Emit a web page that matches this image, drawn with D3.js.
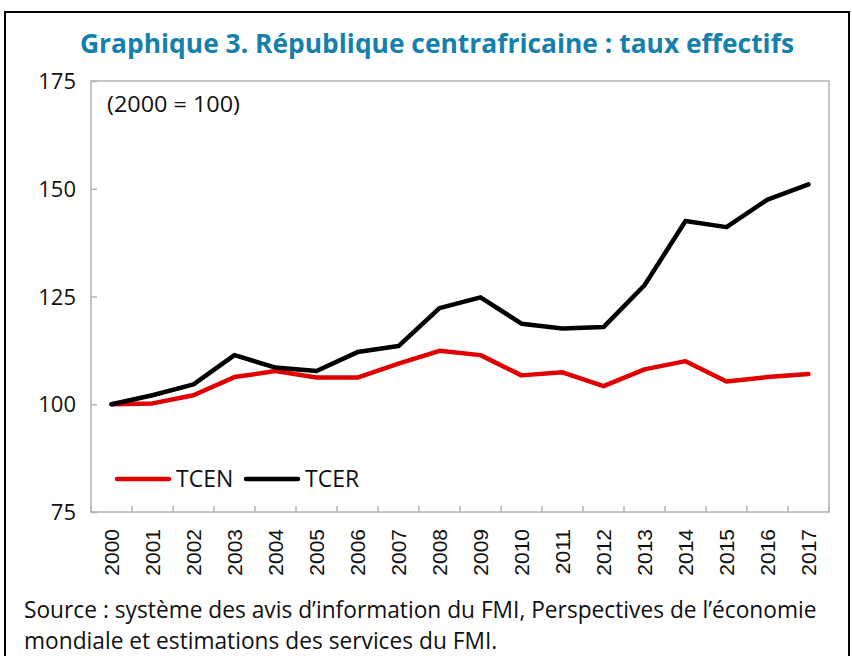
<!DOCTYPE html>
<html>
<head>
<meta charset="utf-8">
<script src="https://cdn.jsdelivr.net/npm/d3@7"></script>
<style>
  body { margin: 0; background: #fff; }
  svg text { font-family: "Open Sans", sans-serif; fill: #111; }
</style>
</head>
<body>
<div class="chart"></div>
<script>
// Data (2000 = 100)
const years = ['2000', '2001', '2002', '2003', '2004', '2005', '2006', '2007', '2008',
  '2009', '2010', '2011', '2012', '2013', '2014', '2015', '2016', '2017'];
const tcen = [100, 100.2, 102.1, 106.3, 107.7, 106.2, 106.2, 109.4, 112.4,
  111.4, 106.7, 107.4, 104.2, 108.1, 110, 105.3, 106.3, 107];
const tcer = [100, 102.1, 104.6, 111.4, 108.5, 107.7, 112.1, 113.5, 122.3,
  124.8, 118.7, 117.6, 117.9, 127.6, 142.5, 141.1, 147.5, 151];
const yTicks = [75, 100, 125, 150, 175];

const W = 852, H = 656;
const plot = {left: 91, right: 829, top: 81, bottom: 512};

const svg = d3.select('.chart').append('svg')
    .attr('width', W)
    .attr('height', H);

// outer frame
svg.append('rect')
    .attr('x', 5).attr('y', 12)
    .attr('width', 844).attr('height', 660)
    .attr('fill', 'none')
    .attr('stroke', '#000')
    .attr('stroke-width', 2);

// title, squeezed to the reference width
svg.append('text')
    .attr('x', 437).attr('y', 53)
    .attr('text-anchor', 'middle')
    .attr('textLength', 714)
    .attr('lengthAdjust', 'spacingAndGlyphs')
    .style('font-size', '27px')
    .style('font-weight', 700)
    .style('fill', '#1580ac')
    .text('Graphique 3. République centrafricaine : taux effectifs');

const xScale = d3.scaleBand()
    .domain(years)
    .range([plot.left, plot.right]);

const yScale = d3.scaleLinear()
    .domain([75, 175])
    .range([plot.bottom, plot.top]);

// plot box
svg.append('rect')
    .attr('x', plot.left).attr('y', plot.top)
    .attr('width', plot.right - plot.left)
    .attr('height', plot.bottom - plot.top)
    .attr('fill', 'none')
    .attr('stroke', '#b3b3b3')
    .attr('stroke-width', 1.5);

// y axis: ticks point inward, labels on the left
const yAxis = svg.append('g')
    .attr('transform', `translate(${plot.left},0)`)
    .call(d3.axisRight(yScale).tickValues(yTicks).tickSize(6).tickFormat(''));
yAxis.select('.domain').remove();
yAxis.selectAll('line').attr('stroke', '#b3b3b3').attr('stroke-width', 1.5);

svg.append('g').selectAll('text')
  .data(yTicks)
  .join('text')
    .attr('x', 76)
    .attr('y', d => yScale(d) + 8)
    .attr('text-anchor', 'end')
    .style('font-size', '22px')
    .text(d => d);

// x axis: ticks between categories, pointing up
const xBounds = years.map(d => xScale(d)).concat([plot.right]);
svg.append('g').selectAll('line')
  .data(xBounds)
  .join('line')
    .attr('x1', d => d).attr('x2', d => d)
    .attr('y1', plot.bottom).attr('y2', plot.bottom - 6)
    .attr('stroke', '#b3b3b3')
    .attr('stroke-width', 1.5);

svg.append('g').selectAll('text')
  .data(years)
  .join('text')
    .attr('transform', d => `translate(${xScale(d) + xScale.bandwidth() / 2 + 7},529) rotate(-90)`)
    .attr('text-anchor', 'end')
    .style('font-family', '"Liberation Sans", Arial, sans-serif')
    .style('font-size', '21px')
    .text(d => d);

svg.append('text')
    .attr('x', 107).attr('y', 112)
    .attr('textLength', 133)
    .attr('lengthAdjust', 'spacingAndGlyphs')
    .style('font-size', '22px')
    .text('(2000 = 100)');

// lines
const line = d3.line()
    .x((d, i) => xScale(years[i]) + xScale.bandwidth() / 2)
    .y(d => yScale(d));

const series = [
  {name: 'TCEN', values: tcen, color: '#e00000'},
  {name: 'TCER', values: tcer, color: '#000'},
];

svg.append('g').selectAll('path')
  .data(series)
  .join('path')
    .attr('d', d => line(d.values))
    .attr('fill', 'none')
    .attr('stroke', d => d.color)
    .attr('stroke-width', 4.5)
    .attr('stroke-linejoin', 'round')
    .attr('stroke-linecap', 'round');

// legend
const legend = svg.append('g').selectAll('g')
  .data(series)
  .join('g')
    .attr('transform', (d, i) => `translate(${117 + i * 129},479)`);
legend.append('line')
    .attr('x1', 0).attr('x2', 52)
    .attr('stroke', d => d.color)
    .attr('stroke-width', 4.5)
    .attr('stroke-linecap', 'round');
legend.append('text')
    .attr('x', 59).attr('y', 8)
    .style('font-size', '23px')
    .text(d => d.name);

// source note
const src = svg.append('g').style('font-size', '20px');
const l1 = src.append('text')
    .attr('x', 24).attr('y', 618)
    .text('Source : système des avis d\u2019information du FMI, Perspectives de l\u2019économie');
src.append('text')
    .attr('x', 24).attr('y', 649)
    .text('mondiale et estimations des services du FMI.');
const ratio = 793 / l1.node().getComputedTextLength();
src.style('font-size', (20 * ratio) + 'px');
</script>
</body>
</html>
